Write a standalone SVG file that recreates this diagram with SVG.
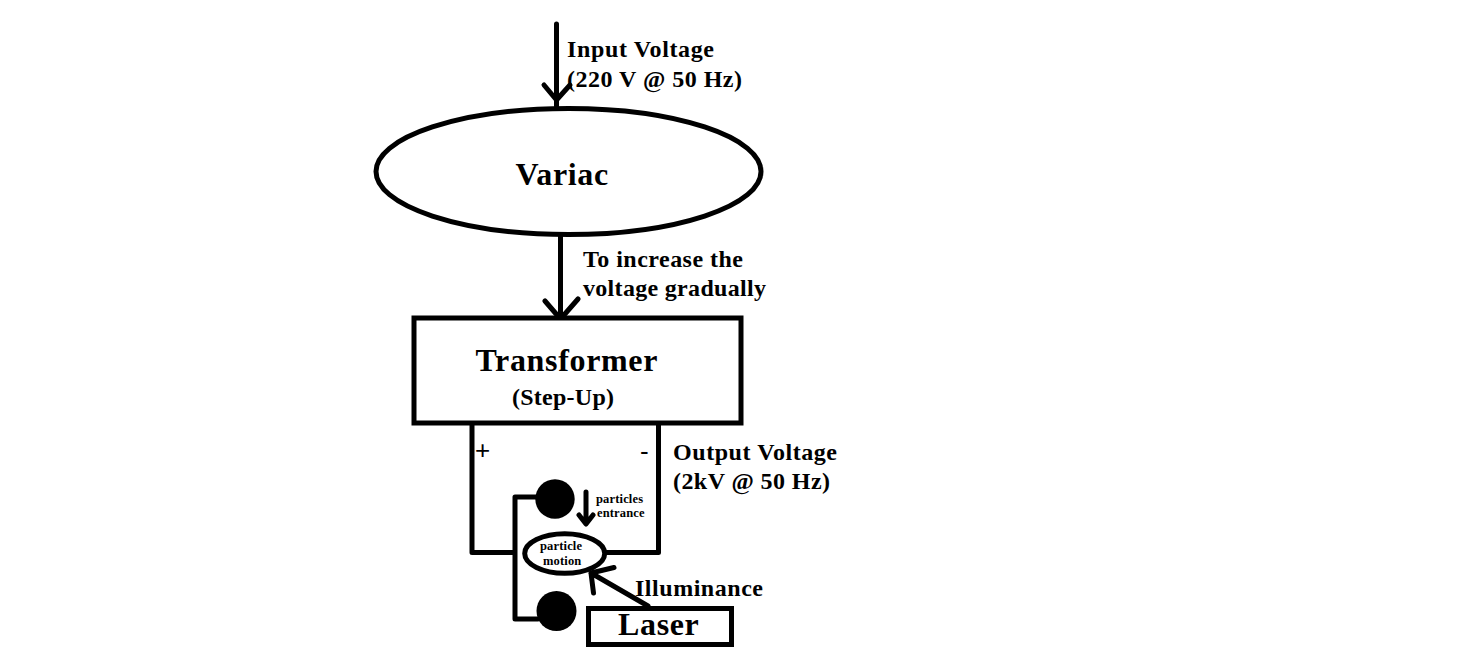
<svg xmlns="http://www.w3.org/2000/svg" width="1479" height="671" viewBox="0 0 1479 671">
<style>
text{font-family:"Liberation Serif","Times New Roman",serif;font-weight:bold;fill:#000}
.s{fill:none;stroke:#000;stroke-width:5;stroke-linecap:round;stroke-linejoin:round}
.n{fill:#fff;stroke:#000;stroke-width:5}
.l{font-size:24px}
.m{font-size:32px;letter-spacing:.65px}
.t{font-size:12.500px;letter-spacing:.15px}
.p{font-family:"Liberation Sans",Arial,sans-serif;font-weight:normal;font-size:26px}
</style>
<rect width="1479" height="671" fill="#fff"/>
<g id="connectors">
<path class="s" d="M556.500 24V106M544 85L556.500 100L570 85"/>
<path class="s" d="M560.500 234V319M545 301L560.500 319L578 299"/>
<path class="s" d="M472 424V552.500H514M658.500 424V552.500H605"/>
<path class="s" d="M537 497H515V619H538"/>
<path class="s" d="M586 492V523M579 515L586 524L593 515"/>
<path class="s" d="M648 606L591 573M614 567.500L591 573L593.500 593"/>
</g>
<g id="variac"><ellipse class="n" cx="568.500" cy="171.500" rx="192.500" ry="63"/><text class="m" x="515.500" y="185">Variac</text></g>
<g id="input-label"><text class="l" x="567" y="57" textLength="147">Input Voltage</text><text class="l" x="567" y="87" textLength="175">(220 V @ 50 Hz)</text></g>
<g id="increase-label"><text class="l" x="583" y="267" textLength="160">To increase the</text><text class="l" x="583" y="296" textLength="183">voltage gradually</text></g>
<g id="transformer"><rect class="n" x="414" y="318" width="327" height="105"/><text class="m" x="475.500" y="371">Transformer</text><text class="l" x="512" y="405" textLength="102">(Step-Up)</text></g>
<g id="polarity"><text class="p" x="475" y="459">+</text><text class="p" x="640" y="460">-</text></g>
<g id="output-label"><text class="l" x="673" y="460" textLength="164">Output Voltage</text><text class="l" x="673" y="489" textLength="157">(2kV @ 50 Hz)</text></g>
<g id="electrode-top"><circle cx="555" cy="499" r="19.700" fill="#000"/></g>
<g id="electrode-bottom"><circle cx="556.500" cy="611" r="20" fill="#000"/></g>
<g id="entrance-label"><text class="t" x="596" y="503">particles</text><text class="t" x="597" y="517">entrance</text></g>
<g id="particle-motion"><ellipse class="n" cx="564.700" cy="553.500" rx="40" ry="19.700"/><text class="t" x="540" y="550">particle</text><text class="t" x="543" y="565">motion</text></g>
<g id="illuminance-label"><text class="l" x="635" y="596" textLength="128">Illuminance</text></g>
<g id="laser"><rect class="n" x="588.500" y="608.500" width="143" height="36"/><text class="m" x="618" y="635">Laser</text></g>
</svg>
